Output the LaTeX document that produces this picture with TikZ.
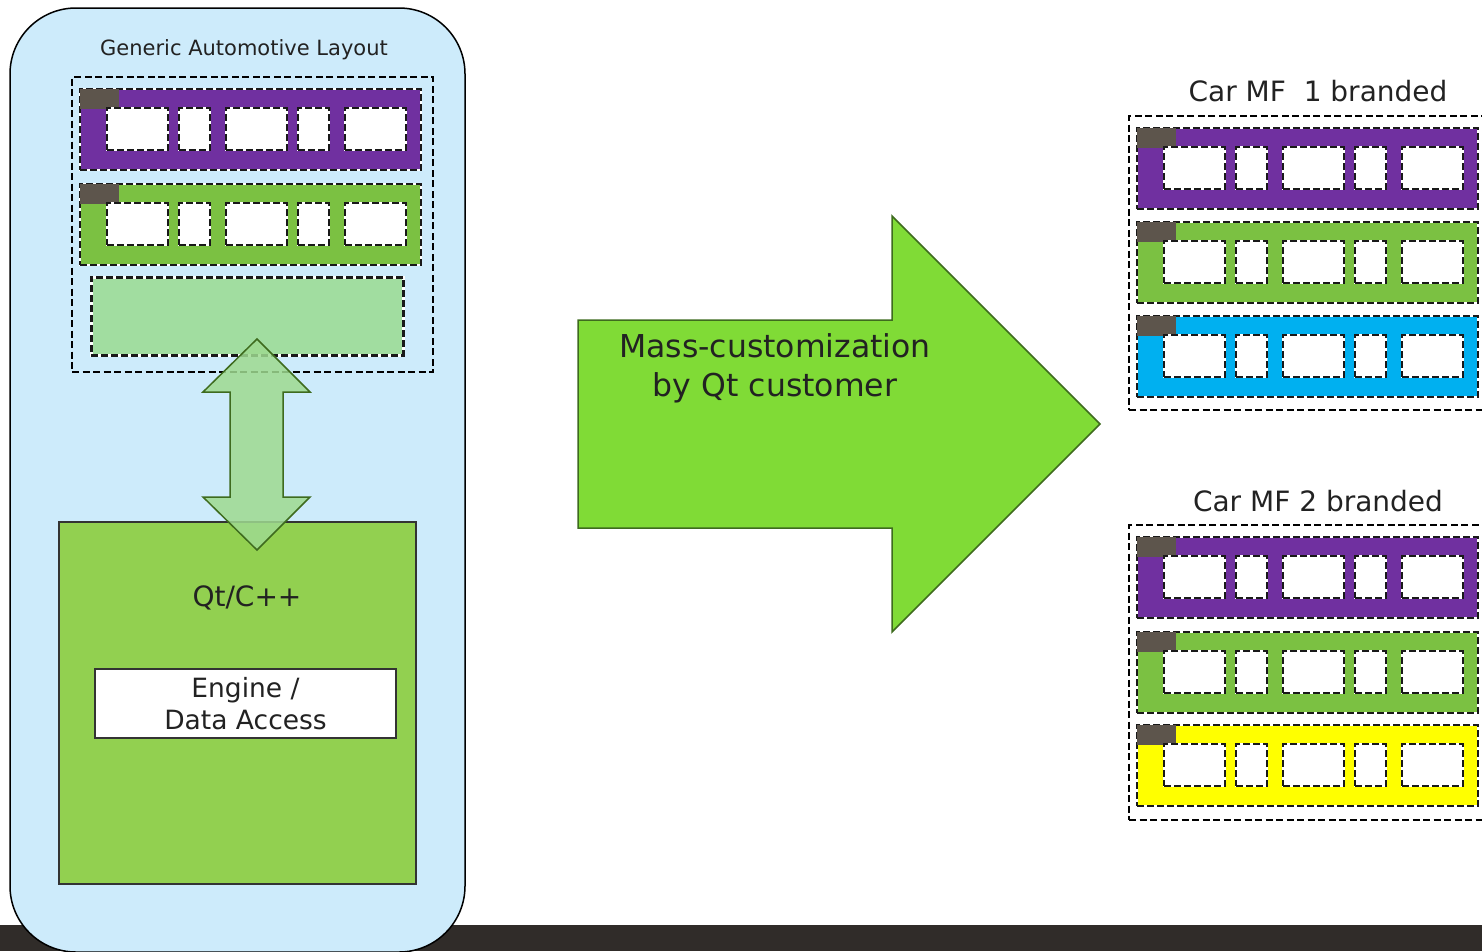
\documentclass[tikz,border=0pt]{standalone}
\usepackage{fontspec}
\setmainfont{DejaVu Sans}
\usetikzlibrary{calc}
\usetikzlibrary{backgrounds}

\definecolor{panelblue}{HTML}{CDEBFB}
\definecolor{barpurple}{HTML}{7030A0}
\definecolor{bargreen}{HTML}{7BC142}
\definecolor{barblue}{HTML}{00B0F0}
\definecolor{baryellow}{HTML}{FFFF00}
\definecolor{tabgray}{HTML}{5D554C}
\definecolor{softgreen}{HTML}{A1DDA0}
\definecolor{qtgreen}{HTML}{92D050}
\definecolor{arrowgreen}{HTML}{80DB36}
\definecolor{arrowedge}{HTML}{3E6B1E}
\definecolor{footerbar}{HTML}{302C29}
\definecolor{textgray}{HTML}{222222}

\tikzset{
  outerdash/.style={draw=black,line width=2.4pt,dash pattern=on 7pt off 3.5pt},
  whitedash/.style={draw=white,line width=2.8pt,
    postaction={draw=black!90,line width=2.8pt,dash pattern=on 7pt off 3pt}},
  barbox/.style={whitedash,minimum width=341pt,minimum height=81pt,
    inner sep=0pt,outer sep=0pt},
  tabbox/.style={fill=tabgray,draw=tabgray,minimum width=38pt,
    minimum height=19pt,inner sep=0pt,outer sep=0pt},
  slotbox/.style={whitedash,fill=white,minimum height=42pt,
    inner sep=0pt,outer sep=0pt},
}

% one screen bar: name, x, y, colour
\newcommand\uibar[4]{%
  \node[barbox,fill=#4,anchor=north west] (#1) at (#2,#3) {};
  \node[tabbox,anchor=north west] (#1-tab) at (#1.north west) {};
  \foreach \dx/\w [count=\i] in {27/61,99/31,146/61,218/31,265/61}
    \node[slotbox,minimum width=\w pt,anchor=north west] (#1-s\i)
      at ($(#1.north west)+(\dx,19)$) {};
}

\begin{document}
\begin{tikzpicture}[x=1pt,y=-1pt,text=textgray]
  \useasboundingbox (0,0) rectangle (1482,951);

  % footer and left panel
  \fill[footerbar] (0,925) rectangle (1482,951);
  \draw[fill=panelblue,line width=1.5pt,rounded corners=66pt] (10,8) rectangle (465,952);
  \node[font={\fontsize{21}{25}\selectfont},anchor=base] (title) at (244,55)
    {Generic Automotive Layout};

  \node[outerdash,minimum width=361pt,minimum height=295pt,anchor=north west,
    inner sep=0pt] (layout) at (71,76) {};
  \uibar{lbar1}{80}{89}{barpurple}
  \uibar{lbar2}{80}{184}{bargreen}
  \node[whitedash,fill=softgreen,minimum width=312pt,minimum height=78pt,
    anchor=north west,inner sep=0pt] (lbar3) at (90,276) {};

  % Qt part
  \coordinate (qt-nw) at (59,522);
  \coordinate (qt-se) at (416,884);
  \draw[draw=black!80,line width=1.5pt,fill=qtgreen] (qt-nw) rectangle (qt-se);
  \node[font={\fontsize{28}{32}\selectfont},anchor=base] (qtlabel) at (247,606) {Qt/C++};
  \node[draw=black!80,line width=1.5pt,fill=white,minimum width=301pt,
    minimum height=69pt,align=center,inner sep=0pt,
    font={\fontsize{26.5}{32}\selectfont}] (engine) at (245.5,703.5)
    {Engine /\\Data Access};

  % link between layout and Qt
  \draw[draw=arrowedge,line width=1.5pt,fill=softgreen!80!qtgreen,fill opacity=0.85]
    (257,339) -- (310,392) -- (283,392) -- (283,497) -- (310,497) -- (257,550)
    -- (203,497) -- (230,497) -- (230,392) -- (203,392) -- cycle;

  % big arrow
  \draw[draw=arrowedge,line width=1.5pt,fill=arrowgreen]
    (578,320) -- (892,320) -- (892,216) -- (1100,424) -- (892,632)
    -- (892,528) -- (578,528) -- cycle;
  \node[align=center,font={\fontsize{31.5}{39}\selectfont}] (mass) at (775,368)
    {Mass-customization\\by Qt customer};

  % branded variants
  \node[font={\fontsize{28}{32}\selectfont},anchor=base] (brand1) at (1318,101)
    {Car MF~~1 branded};
  \node[outerdash,minimum width=358pt,minimum height=294pt,anchor=north west,
    inner sep=0pt] (car1) at (1128,115) {};
  \uibar{rbar1}{1137}{128}{barpurple}
  \uibar{rbar2}{1137}{222}{bargreen}
  \uibar{rbar3}{1137}{316}{barblue}

  \node[font={\fontsize{28}{32}\selectfont},anchor=base] (brand2) at (1318,511)
    {Car MF 2 branded};
  \node[outerdash,minimum width=358pt,minimum height=295pt,anchor=north west,
    inner sep=0pt] (car2) at (1128,524) {};
  \uibar{rbar4}{1137}{537}{barpurple}
  \uibar{rbar5}{1137}{632}{bargreen}
  \uibar{rbar6}{1137}{725}{baryellow}
\end{tikzpicture}
\end{document}
